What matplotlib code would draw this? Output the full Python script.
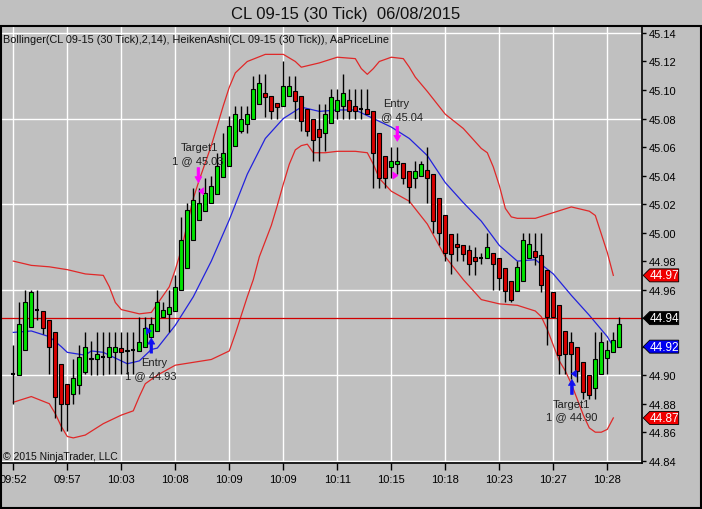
import matplotlib
matplotlib.use('Agg')
import matplotlib.pyplot as plt
from matplotlib.patches import Rectangle, Polygon

plt.rcParams['font.family'] = ['Liberation Sans', 'DejaVu Sans']

# ---------------- data (Heiken Ashi candles) ----------------
opens = [44.901, 44.900, 44.918, 44.934, 44.946, 44.945, 44.939, 44.930, 44.908, 44.894,
         44.887, 44.893, 44.902, 44.912, 44.911, 44.913, 44.913, 44.916, 44.919, 44.917,
         44.918, 44.917, 44.920, 44.927, 44.931, 44.941, 44.943, 44.945, 44.960, 44.975,
         44.995, 45.009, 45.015, 45.021, 45.027, 45.039, 45.047, 45.061, 45.071, 45.076,
         45.080, 45.090, 45.098, 45.096, 45.091, 45.089, 45.096, 45.099, 45.096, 45.087,
         45.080, 45.073, 45.070, 45.077, 45.085, 45.089, 45.093, 45.089, 45.087, 45.087,
         45.085, 45.070, 45.054, 45.046, 45.048, 45.049, 45.043, 45.038, 45.040, 45.044,
         45.041, 45.024, 45.012, 44.999, 44.992, 44.991, 44.988, 44.983, 44.982, 44.982,
         44.986, 44.982, 44.975, 44.966, 44.959, 44.966, 44.982, 44.987, 44.984, 44.974,
         44.958, 44.949, 44.931, 44.923, 44.920, 44.909, 44.900, 44.891, 44.901, 44.912,
         44.916, 44.920]
highs = [44.921, 44.951, 44.960, 44.960, 44.960, 44.945, 44.939, 44.930, 44.908, 44.894,
         44.911, 44.921, 44.930, 44.924, 44.930, 44.930, 44.930, 44.930, 44.930, 44.930,
         44.930, 44.941, 44.941, 44.941, 44.960, 44.951, 44.960, 44.970, 45.011, 45.021,
         45.031, 45.031, 45.038, 45.040, 45.056, 45.070, 45.082, 45.089, 45.089, 45.089,
         45.110, 45.111, 45.111, 45.096, 45.091, 45.120, 45.110, 45.110, 45.096, 45.087,
         45.080, 45.090, 45.090, 45.101, 45.101, 45.111, 45.101, 45.101, 45.101, 45.101,
         45.085, 45.070, 45.054, 45.060, 45.060, 45.049, 45.043, 45.050, 45.050, 45.060,
         45.041, 45.024, 45.012, 44.999, 45.000, 44.991, 44.991, 44.990, 44.986, 45.000,
         44.986, 44.982, 44.975, 44.966, 44.980, 45.000, 45.000, 45.000, 45.000, 44.974,
         44.958, 44.949, 44.931, 44.930, 44.920, 44.909, 44.900, 44.930, 44.930, 44.925,
         44.930, 44.941]
lows = [44.880, 44.900, 44.918, 44.934, 44.939, 44.929, 44.901, 44.870, 44.861, 44.861,
        44.880, 44.887, 44.901, 44.900, 44.900, 44.900, 44.901, 44.901, 44.901, 44.901,
        44.901, 44.917, 44.920, 44.927, 44.931, 44.941, 44.930, 44.945, 44.960, 44.975,
        44.995, 45.009, 45.015, 45.021, 45.027, 45.039, 45.047, 45.061, 45.070, 45.070,
        45.080, 45.090, 45.081, 45.080, 45.080, 45.089, 45.096, 45.080, 45.071, 45.068,
        45.050, 45.050, 45.057, 45.077, 45.080, 45.080, 45.080, 45.080, 45.080, 45.083,
        45.031, 45.031, 45.031, 45.038, 45.041, 45.034, 45.021, 45.031, 45.040, 45.021,
        45.000, 44.991, 44.980, 44.971, 44.980, 44.980, 44.970, 44.970, 44.978, 44.982,
        44.960, 44.960, 44.951, 44.951, 44.959, 44.966, 44.982, 44.977, 44.958, 44.921,
        44.941, 44.901, 44.901, 44.897, 44.895, 44.883, 44.883, 44.883, 44.901, 44.901,
        44.916, 44.920]
closes = [44.901, 44.936, 44.951, 44.958, 44.946, 44.933, 44.920, 44.885, 44.880, 44.880,
          44.898, 44.913, 44.920, 44.911, 44.915, 44.913, 44.920, 44.920, 44.916, 44.918,
          44.918, 44.923, 44.933, 44.936, 44.951, 44.946, 44.948, 44.962, 44.995, 45.016,
          45.023, 45.021, 45.028, 45.033, 45.047, 45.056, 45.075, 45.083, 45.080, 45.083,
          45.101, 45.105, 45.095, 45.085, 45.088, 45.103, 45.103, 45.092, 45.078, 45.071,
          45.065, 45.067, 45.083, 45.095, 45.093, 45.098, 45.085, 45.085, 45.087, 45.083,
          45.056, 45.038, 45.038, 45.050, 45.050, 45.038, 45.032, 45.043, 45.048, 45.038,
          45.008, 45.000, 44.986, 44.985, 44.990, 44.985, 44.978, 44.980, 44.982, 44.990,
          44.978, 44.968, 44.959, 44.953, 44.976, 44.995, 44.992, 44.983, 44.963, 44.941,
          44.941, 44.914, 44.915, 44.915, 44.903, 44.888, 44.886, 44.911, 44.923, 44.918,
          44.925, 44.936]

# ---------------- Bollinger(2,14) ----------------
upper_idx = [0, 3, 6, 9, 12, 15, 16, 17, 18, 21, 23, 24, 25, 26, 27, 28, 29, 30, 31, 32,
             33, 34, 35, 36, 37, 38, 39, 42, 45, 47, 48, 50, 51, 54, 57, 58, 59, 60, 61, 63,
             65, 66, 67, 69, 72, 75, 78, 79, 80, 81, 82, 83, 84, 87, 90, 93, 96, 97, 99, 100]
upper = [44.980, 44.977, 44.976, 44.974, 44.971, 44.970, 44.962, 44.951, 44.946, 44.943,
         44.944, 44.950, 44.956, 44.962, 44.974, 44.988, 45.006, 45.024, 45.037, 45.049,
         45.061, 45.075, 45.089, 45.102, 45.112, 45.116, 45.120, 45.125, 45.125, 45.120,
         45.116, 45.118, 45.119, 45.123, 45.122, 45.115, 45.111, 45.115, 45.120, 45.123,
         45.122, 45.116, 45.109, 45.099, 45.083, 45.073, 45.059, 45.056, 45.046, 45.033,
         45.017, 45.011, 45.010, 45.010, 45.014, 45.018, 45.015, 45.012, 44.986, 44.970]

middle_idx = [0, 3, 6, 8, 9, 12, 13, 15, 17, 19, 21, 22, 23, 24, 27, 30, 33, 36, 39, 42,
              45, 48, 51, 54, 57, 60, 63, 66, 69, 72, 75, 78, 81, 84, 87, 90, 93, 96, 99, 100]
middle = [44.930, 44.931, 44.927, 44.920, 44.916, 44.914, 44.917, 44.916, 44.912, 44.908,
          44.910, 44.914, 44.918, 44.919, 44.935, 44.955, 44.980, 45.009, 45.041, 45.066,
          45.080, 45.088, 45.085, 45.086, 45.086, 45.080, 45.074, 45.066, 45.054, 45.035,
          45.021, 45.008, 44.991, 44.980, 44.981, 44.971, 44.956, 44.942, 44.927, 44.920]

lower_idx = [0, 3, 6, 7, 8, 9, 10, 12, 15, 18, 20, 21, 22, 24, 27, 30, 33, 36, 37, 38,
             39, 40, 41, 42, 43, 44, 45, 46, 47, 48, 49, 50, 52, 54, 57, 59, 60, 61, 63, 66,
             69, 72, 75, 78, 81, 84, 87, 88, 89, 90, 91, 92, 93, 94, 95, 96, 97, 98, 99, 100]
lower = [44.881, 44.885, 44.880, 44.873, 44.864, 44.857, 44.856, 44.858, 44.866, 44.872,
         44.875, 44.885, 44.894, 44.900, 44.907, 44.909, 44.911, 44.917, 44.929, 44.942,
         44.955, 44.967, 44.983, 44.994, 45.005, 45.019, 45.034, 45.048, 45.058, 45.061,
         45.062, 45.056, 45.056, 45.057, 45.057, 45.056, 45.048, 45.038, 45.029, 45.022,
         45.006, 44.983, 44.967, 44.953, 44.950, 44.949, 44.945, 44.941, 44.932, 44.921,
         44.910, 44.903, 44.894, 44.883, 44.872, 44.863, 44.860, 44.860, 44.862, 44.870]

time_labels = ['09:52', '09:57', '10:03', '10:08', '10:09', '10:09',
               '10:11', '10:15', '10:18', '10:23', '10:27', '10:28']
price_ticks = [44.84, 44.86, 44.88, 44.90, 44.92, 44.94, 44.96, 44.98,
               45.00, 45.02, 45.04, 45.06, 45.08, 45.10, 45.12, 45.14]
grid_prices = [44.84, 44.90, 44.96, 45.02, 45.08, 45.14]

last_price = 44.94
upper_last, middle_last, lower_last = 44.97, 44.92, 44.87

# ---------------- figure ----------------
W, H = 702, 510
BG = '#C0C0C0'
GREEN = '#00E400'
RED = '#D80000'
fig = plt.figure(figsize=(W / 100, H / 100), dpi=100)
fig.patch.set_facecolor(BG)
ax = fig.add_axes([1 / W, 1 - 464 / H, 640.7 / W, (464 - 26.7) / H])
ax.set_facecolor(BG)

n = len(closes)
xs = list(range(n))
tick_idx = list(range(0, n, 9))[:len(time_labels)]

# grid
for gp in grid_prices:
    ax.axhline(gp, color='white', lw=1, zorder=0)
for t in tick_idx:
    ax.axvline(t, color='white', lw=1, zorder=0)

# bands
ax.plot(upper_idx, upper, color='#E02828', lw=0.9, zorder=2)
ax.plot(lower_idx, lower, color='#E02828', lw=0.9, zorder=2)
ax.plot(middle_idx, middle, color='#2222DD', lw=0.9, zorder=2)

# price line
ax.axhline(last_price, color='#D00000', lw=0.9, zorder=2)

# candles
bw = 0.72
for i in xs:
    o, h, l, c = opens[i], highs[i], lows[i], closes[i]
    ax.vlines(i, l, h, color='black', lw=1, zorder=3)
    if abs(c - o) < 1e-9:
        ax.hlines(o, i - bw / 2, i + bw / 2, color='black', lw=1.5, zorder=4)
    else:
        col = GREEN if c > o else RED
        ax.add_patch(Rectangle((i - bw / 2, min(o, c)), bw, abs(c - o),
                               facecolor=col, edgecolor='black', lw=0.8, zorder=4))

PXX = 1 / 6.0        # index units per pixel
PXY = 1 / 1425.7     # price units per pixel


def arrow(x, tip, up, color):
    s = 1 if up else -1
    pts = [(0, 0), (3.5, -6 * s), (1.3, -6 * s), (1.3, -15 * s), (-1.3, -15 * s),
           (-1.3, -6 * s), (-3.5, -6 * s)]
    poly = [(x + px * PXX, tip + py * PXY) for px, py in pts]
    ax.add_patch(Polygon(poly, closed=True, facecolor=color, edgecolor=color,
                         lw=0.5, zorder=6))


def tri(x, y, right, color):
    s = 1 if right else -1
    pts = [(3 * s, 0), (-2 * s, 3.5), (-2 * s, -3.5)]
    poly = [(x + px * PXX, y + py * PXY) for px, py in pts]
    ax.add_patch(Polygon(poly, closed=True, facecolor=color, edgecolor=color,
                         lw=0.5, zorder=6))


BLUE = '#1010F0'
MAG = '#FF00FF'
arrow(23.0, 44.926, True, BLUE)
tri(22.5, 44.931, True, BLUE)
arrow(30.85, 45.035, False, MAG)
tri(31.4, 45.029, False, MAG)
arrow(64.0, 45.064, False, MAG)
tri(63.6, 45.040, True, MAG)
arrow(93.1, 44.897, True, BLUE)
tri(93.5, 44.901, False, BLUE)

tk = dict(fontsize=8, ha='center', va='center', color='#202020', zorder=7)
ax.text(23.45, 44.909, 'Entry', **tk)
ax.text(22.97, 44.900, '1 @ 44.93', **tk)
ax.text(31.1, 45.060, 'Target1', **tk)
ax.text(30.8, 45.051, '1 @ 45.03', **tk)
ax.text(63.8, 45.091, 'Entry', **tk)
ax.text(64.8, 45.082, '@ 45.04', **tk)
ax.text(93.0, 44.880, 'Target1', **tk)
ax.text(93.0, 44.871, '1 @ 44.90', **tk)

# axes styling
ax.set_xlim(-2.05, 104.73)
ax.set_ylim(44.8384, 45.1451)
ax.set_xticks(tick_idx)
ax.set_xticklabels(time_labels, fontsize=8)
ax.yaxis.tick_right()
ax.set_yticks(price_ticks)
# labels hidden behind the price markers (last price and middle band)
hidden = (last_price, middle_last)
ax.set_yticklabels(['' if any(abs(p - q) < 1e-9 for q in hidden) else '%.2f' % p
                    for p in price_ticks], fontsize=8)
ax.tick_params(axis='x', length=5, width=1, pad=3, direction='out')
ax.tick_params(axis='y', length=3, width=1, pad=2, direction='out')
for sp in ax.spines.values():
    sp.set_color('black')
    sp.set_linewidth(1.2)

# price markers on right axis
yt = ax.get_yaxis_transform()
aw = 640.7


def marker(price, color, label):
    hh = 6.5 * PXY
    x0 = 1 + 1.5 / aw
    x1 = 1 + 8 / aw
    x2 = 1 + 37 / aw
    poly = [(x0, price), (x1, price + hh), (x2, price + hh), (x2, price - hh), (x1, price - hh)]
    ax.add_patch(Polygon(poly, closed=True, transform=yt, clip_on=False,
                         facecolor=color, edgecolor='black', lw=0.6, zorder=10))
    ax.text(1 + 22.5 / aw, price, label, transform=yt, clip_on=False, color='white',
            fontsize=8.5, ha='center', va='center', zorder=11)


marker(upper_last, '#F00000', '%.2f' % upper_last)
marker(last_price, 'black', '%.2f' % last_price)
marker(middle_last, '#0000F0', '%.2f' % middle_last)
marker(lower_last, '#F00000', '%.2f' % lower_last)

# texts
fig.text(346 / W, 1 - 14 / H, 'CL 09-15 (30 Tick)  06/08/2015', fontsize=12,
         ha='center', va='center', color='#111111')
fig.text(3 / W, 1 - 40 / H,
         'Bollinger(CL 09-15 (30 Tick),2,14), HeikenAshi(CL 09-15 (30 Tick)), AaPriceLine',
         fontsize=7.8, ha='left', va='center', color='#111111')
fig.text(3 / W, 1 - 457 / H, '\u00a9 2015 NinjaTrader, LLC', fontsize=7.5,
         ha='left', va='center', color='#111111')

fig.add_artist(Rectangle((1 / W, 1 - 508.5 / H), 699.5 / W, (508.5 - 26.7) / H,
                         transform=fig.transFigure, fill=False, edgecolor='black', lw=1.5))

fig.savefig('out.png', dpi=100, facecolor=BG)
